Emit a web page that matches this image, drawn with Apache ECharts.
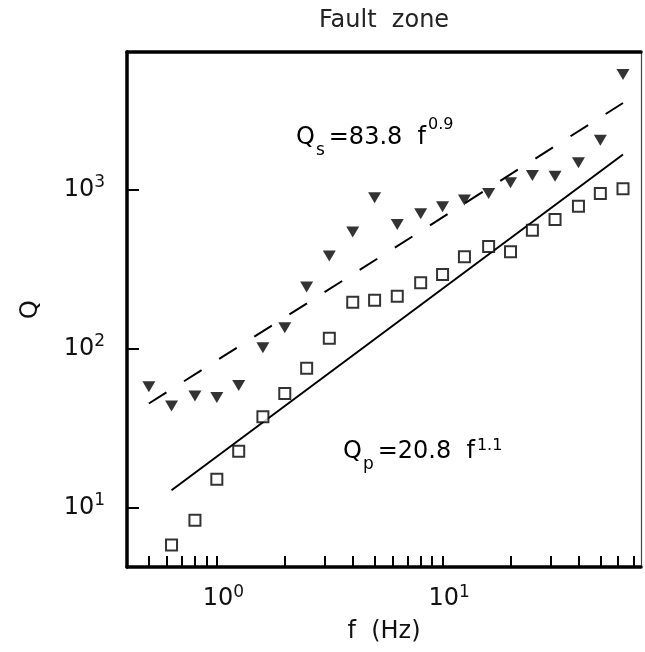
<!DOCTYPE html>
<html><head><meta charset="utf-8">
<script src="https://cdn.jsdelivr.net/npm/echarts@6/dist/echarts.min.js"></script>
<style>html,body{margin:0;padding:0;background:#fff}#c{width:645px;height:652px}</style>
</head><body><div id="c"></div>
<script>
// ---- data ----
const qsFreqs = [0.5,0.63,0.8,1,1.25,1.6,2,2.5,3.15,4,5,6.3,8,10,12.5,16,20,25,31.5,40,50,63];
const qsValues = [57.4,43.4,50.1,49,58.5,101,135,243,381,540,887,603,703,778,857,944,1102,1224,1213,1472,2042,5286];
const qpFreqs = [0.63,0.8,1,1.25,1.6,2,2.5,3.15,4,5,6.3,8,10,12.5,16,20,25,31.5,40,50,63];
const qpValues = [5.8,8.3,15.0,22.5,37.2,52,75,116,195,201,213,259,292,377,437,406,554,647,785,944,1009];
// fitted lines (end points)
const fitSFreqs = [0.5,63];
const fitSValues = [45,3500];
const fitPFreqs = [0.63,63];
const fitPValues = [12.8,1660];
// axes
const xRange = [0.4, 75.7];
const yRange = [4.21, 7330];
const xTickValues = [0.5,0.6,0.7,0.8,0.9,1,2,3,4,5,6,7,8,9,10,20,30,40,50,60,70];
const xLabelValues = [1,10];
const yTickValues = [10,100,1000];
const titleText = 'Fault  zone';
const xName = 'f  (Hz)';
const yName = 'Q';

const FONT = 'DejaVu Sans';
const L = Math.log10;
const pairs = (xs, ys) => xs.map((x, i) => [L(x), L(ys[i])]);

const chart = echarts.init(document.getElementById('c'), null, {renderer: 'canvas'});
const labRich = {
  p: {width: 13, fontSize: 24, fontFamily: FONT},
  b: {fontSize: 24, lineHeight: 30, fontFamily: FONT, color: '#111'},
  s: {fontSize: 17, lineHeight: 15, verticalAlign: 'top', fontFamily: FONT, color: '#111'}
};
const noAxis = {show: false};
chart.setOption({
  animation: false,
  backgroundColor: '#fff',
  title: {text: titleText, left: 319, top: 9, padding: 0,
    textStyle: {fontFamily: FONT, fontSize: 24, fontWeight: 'normal', color: '#222'}},
  grid: {left: 127, right: 4, top: 52, bottom: 85, containLabel: false, outerBoundsMode: 'none'},
  xAxis: [{
    type: 'value', position: 'bottom', min: L(xRange[0]), max: L(xRange[1]),
    axisLine: {onZero: false, lineStyle: {color: '#000', width: 3.5}},
    axisTick: {inside: true, length: 11, lineStyle: {color: '#000', width: 2}, customValues: xTickValues.map(L)},
    axisLabel: {customValues: xLabelValues.map(L), margin: 17,
      formatter: v => '{p|}{b|10}{s|' + Math.round(v) + '}', rich: labRich},
    splitLine: {show: false},
    name: xName, nameLocation: 'middle', nameGap: 53,
    nameTextStyle: {fontFamily: FONT, fontSize: 24, color: '#111'}
  }, {
    type: 'value', position: 'top', min: L(xRange[0]), max: L(xRange[1]),
    axisLine: {onZero: false, lineStyle: {color: '#000', width: 3.5}},
    axisTick: noAxis, axisLabel: noAxis, splitLine: noAxis
  }],
  yAxis: [{
    type: 'value', position: 'left', min: L(yRange[0]), max: L(yRange[1]),
    axisLine: {onZero: false, lineStyle: {color: '#000', width: 3.5}},
    axisTick: {inside: true, length: 12, lineStyle: {color: '#000', width: 2}, customValues: yTickValues.map(L)},
    axisLabel: {customValues: yTickValues.map(L), margin: 22,
      formatter: v => '{b|10}{s|' + Math.round(v) + '}', rich: labRich},
    splitLine: {show: false},
    name: yName, nameLocation: 'middle', nameGap: 84,
    nameTextStyle: {fontFamily: FONT, fontSize: 24, color: '#111'}
  }, {
    type: 'value', position: 'right', min: L(yRange[0]), max: L(yRange[1]),
    axisLine: {onZero: false, lineStyle: {color: '#444', width: 1.2}},
    axisTick: noAxis, axisLabel: noAxis, splitLine: noAxis
  }],
  graphic: [{
    type: 'text', x: 296, y: 117, z: 100,
    style: {
      text: '{b|Q}{sub|s}{b|=83.8  f}{sup|0.9}',
      align: 'left', verticalAlign: 'top',
      rich: {
        b: {fontSize: 24, lineHeight: 42, fontFamily: FONT, color: '#111'},
        sub: {fontSize: 17, lineHeight: 17, verticalAlign: 'bottom', padding: [0, 4, 0, 1], fontFamily: FONT, color: '#111'},
        sup: {fontSize: 16, lineHeight: 16, verticalAlign: 'top', padding: [0, 0, 0, 2], fontFamily: FONT, color: '#111'}
      }
    }
  }, {
    type: 'text', x: 343, y: 431, z: 100,
    style: {
      text: '{b|Q}{sub|p}{b|=20.8  f}{sup|1.1}',
      align: 'left', verticalAlign: 'top',
      rich: {
        b: {fontSize: 24, lineHeight: 42, fontFamily: FONT, color: '#111'},
        sub: {fontSize: 17, lineHeight: 14, verticalAlign: 'bottom', padding: [0, 4, 0, 1], fontFamily: FONT, color: '#111'},
        sup: {fontSize: 16, lineHeight: 16, verticalAlign: 'top', padding: [7, 0, 0, 2], fontFamily: FONT, color: '#111'}
      }
    }
  }],
  series: [{
    type: 'line', data: pairs(fitSFreqs, fitSValues), showSymbol: false, silent: true,
    lineStyle: {color: '#000', width: 2, type: [20.8, 20.8]}, z: 2
  }, {
    type: 'line', data: pairs(fitPFreqs, fitPValues), showSymbol: false, silent: true,
    lineStyle: {color: '#000', width: 2, type: 'solid'}, z: 2
  }, {
    type: 'scatter', data: pairs(qsFreqs, qsValues), symbol: 'triangle', symbolRotate: 180,
    symbolSize: [13, 11], itemStyle: {color: '#000'}, z: 3
  }, {
    type: 'scatter', data: pairs(qpFreqs, qpValues), symbol: 'rect', symbolSize: 11,
    itemStyle: {color: '#fff', borderColor: '#000', borderWidth: 2}, z: 3
  }]
});
</script>
</body></html>
